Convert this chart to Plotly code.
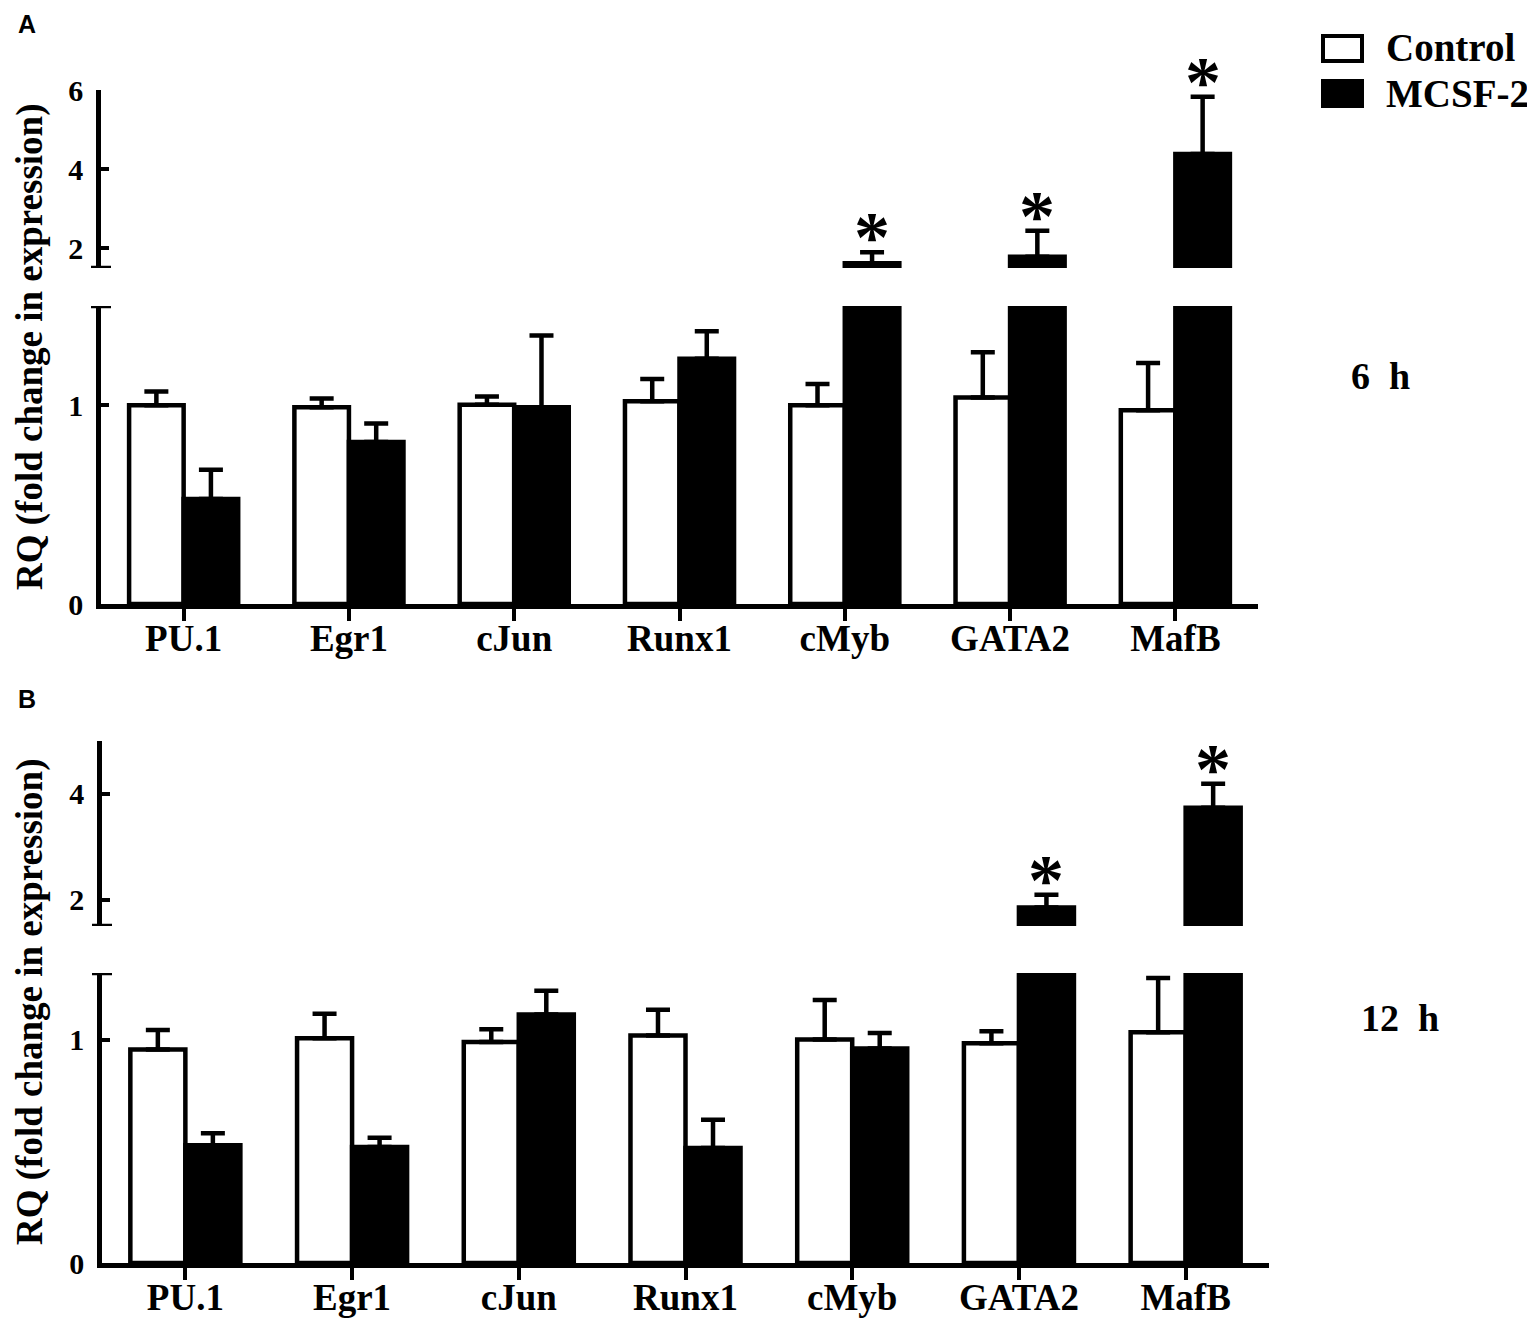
import plotly.graph_objects as go

# ---------------- data ----------------
categories = ["PU.1", "Egr1", "cJun", "Runx1", "cMyb", "GATA2", "MafB"]

a_control = [1.00, 0.99, 1.003, 1.02, 1.00, 1.04, 0.975]
a_control_err = [0.07, 0.045, 0.042, 0.113, 0.108, 0.227, 0.238]
a_mcsf = [0.528, 0.815, 0.99, 1.234, 1.62, 1.785, 4.38]
a_mcsf_err = [0.148, 0.093, 0.361, 0.139, 0.28, 0.655, 1.45]
a_sig = [False, False, False, False, True, True, True]

b_control = [0.957, 1.007, 0.991, 1.02, 1.002, 0.985, 1.034]
b_control_err = [0.088, 0.11, 0.057, 0.115, 0.177, 0.054, 0.244]
b_mcsf = [0.528, 0.52, 1.114, 0.515, 0.961, 1.85, 3.735]
b_mcsf_err = [0.054, 0.041, 0.106, 0.127, 0.07, 0.24, 0.455]
b_sig = [False, False, False, False, False, True, True]

series_names = ["Control", "MCSF-2"]
series_fill = ["white", "black"]
time_labels = ["6  h", "12  h"]
panel_letters = ["A", "B"]
y_title = "RQ (fold change in expression)"

a_upper_ticks = [2, 4, 6]
a_lower_ticks = [0, 1]
b_upper_ticks = [2, 4]
b_lower_ticks = [0, 1]

# ---------------- layout helpers ----------------
OFF = 8                      # page body margin of the html page
W, H = 1535 - OFF, 1321 - OFF
SERIF = "Liberation Serif"


def fx(p):                   # window pixel x -> paper x
    return (p - OFF) / W


def fy(p):                   # window pixel y -> paper y
    return 1 - (p - OFF) / H


A_X = [fx(101), fx(1258)]
B_X = [fx(102), fx(1269)]
A_UP = [fy(268), fy(90)]
A_LO = [fy(604), fy(306)]
B_UP = [fy(926), fy(741)]
B_LO = [fy(1263), fy(973)]

LW = 4.5
fig = go.Figure()


def add_pair(ctrl, ctrl_err, mcsf, mcsf_err, xa, ya):
    for vals, errs, name, fill in [(ctrl, ctrl_err, series_names[0], series_fill[0]),
                                   (mcsf, mcsf_err, series_names[1], series_fill[1])]:
        fig.add_trace(go.Bar(
            x=categories, y=vals, name=name, xaxis=xa, yaxis=ya,
            marker=dict(color=fill, line=dict(color="black", width=LW)),
            error_y=dict(type="data", symmetric=False, array=errs,
                         arrayminus=[0] * len(vals), color="black",
                         thickness=LW, width=12),
            showlegend=False,
        ))


add_pair(a_control, a_control_err, a_mcsf, a_mcsf_err, "x", "y")
add_pair(a_control, a_control_err, a_mcsf, a_mcsf_err, "x", "y2")
add_pair(b_control, b_control_err, b_mcsf, b_mcsf_err, "x2", "y3")
add_pair(b_control, b_control_err, b_mcsf, b_mcsf_err, "x2", "y4")

tickfont_y = dict(family=SERIF, size=30, color="black", weight="bold")
tickfont_x = dict(family=SERIF, size=37, color="black", weight="bold")


def yax(domain, rng, tickvals, anchor):
    return dict(domain=domain, range=rng, anchor=anchor, tickvals=tickvals,
                showline=True, linecolor="black", linewidth=LW,
                ticks="inside", ticklen=8, tickwidth=4, tickcolor="black",
                tickfont=tickfont_y, showgrid=False, zeroline=False,
                ticklabelstandoff=7, fixedrange=True, automargin=False)


def xax(domain, anchor):
    return dict(domain=domain, anchor=anchor, range=[-0.5, 6.5],
                showline=True, linecolor="black", linewidth=LW,
                ticks="outside", ticklen=12, tickwidth=4, tickcolor="black",
                tickfont=tickfont_x, showgrid=False, zeroline=False,
                ticklabelstandoff=-14, fixedrange=True, automargin=False)


fig.update_layout(
    width=W, height=H,
    margin=dict(l=0, r=0, t=0, b=0, autoexpand=False),
    paper_bgcolor="white", plot_bgcolor="white",
    barmode="group", bargap=0.34, bargroupgap=0.0,
    xaxis=xax(A_X, "y"),
    xaxis2=xax(B_X, "y3"),
    yaxis=yax(A_LO, [0, 1.5], a_lower_ticks, "x"),
    yaxis2=yax(A_UP, [1.5, 6], a_upper_ticks, "x"),
    yaxis3=yax(B_LO, [0, 1.3], b_lower_ticks, "x2"),
    yaxis4=yax(B_UP, [1.5, 5], b_upper_ticks, "x2"),
    showlegend=False,
)

# axis break caps (decoration at the ends of the broken y-axis segments)
cap = 10 / W
for xdom, yref, yval in [(A_X, "y", 1.5), (A_X, "y2", 1.5), (B_X, "y3", 1.3), (B_X, "y4", 1.5)]:
    fig.add_shape(type="line", xref="paper", yref=yref,
                  x0=xdom[0] - cap, x1=xdom[0] + cap, y0=yval, y1=yval,
                  line=dict(color="black", width=LW))

# legend (swatches + labels)
for k, (name, fill) in enumerate(zip(series_names, series_fill)):
    top = 36 + 45 * k
    fig.add_shape(type="rect", xref="paper", yref="paper",
                  x0=fx(1323), x1=fx(1362), y0=fy(top + 25), y1=fy(top),
                  fillcolor=fill, line=dict(color="black", width=4))
    fig.add_annotation(x=fx(1384), y=fy(top + 12), xref="paper", yref="paper",
                       text=name, showarrow=False, xanchor="left", yanchor="middle",
                       font=dict(family=SERIF, size=39, color="black", weight="bold"))

# significance asterisks
bar_half = (1 - 0.34) / 4
for mcsf, err, sig, xa, ya in [(a_mcsf, a_mcsf_err, a_sig, "x", "y2"),
                               (b_mcsf, b_mcsf_err, b_sig, "x2", "y4")]:
    for i, s in enumerate(sig):
        if s:
            fig.add_annotation(x=i + bar_half, y=mcsf[i] + err[i], xref=xa, yref=ya,
                               text="*", showarrow=False, yanchor="middle", yshift=15,
                               font=dict(family=SERIF, size=72, color="black", weight="bold"))

# y-axis titles, time labels, panel letters
for ydom_lo, ydom_up, tlabel, letter, tx, ty, ly in [
        (A_LO, A_UP, time_labels[0], panel_letters[0], 1380, 376, 24),
        (B_LO, B_UP, time_labels[1], panel_letters[1], 1400, 1018, 699)]:
    yc = (ydom_lo[0] + ydom_up[1]) / 2
    fig.add_annotation(x=fx(30), y=yc, xref="paper", yref="paper", text=y_title,
                       textangle=-90, showarrow=False, xanchor="center", yanchor="middle",
                       font=dict(family=SERIF, size=37, color="black", weight="bold"))
    fig.add_annotation(x=fx(tx), y=fy(ty), xref="paper", yref="paper", text=tlabel,
                       showarrow=False, xanchor="center", yanchor="middle",
                       font=dict(family=SERIF, size=38, color="black", weight="bold"))
    fig.add_annotation(x=fx(27), y=fy(ly), xref="paper", yref="paper", text=letter,
                       showarrow=False, xanchor="center", yanchor="middle",
                       font=dict(family="Liberation Sans", size=25, color="black", weight="bold"))

fig.write_html("out.html")
